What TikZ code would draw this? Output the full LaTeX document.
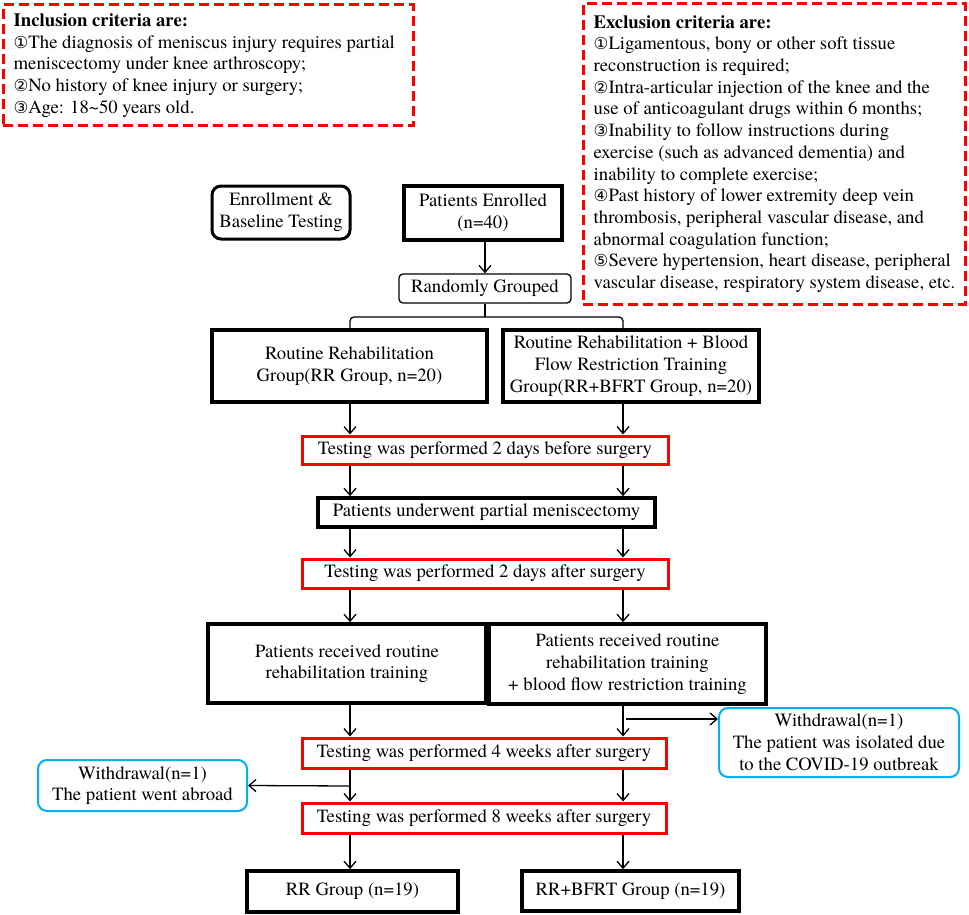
\documentclass[tikz,border=0pt]{standalone}
\usepackage{fontspec}
\setmainfont{texgyretermes}[Extension=.otf, UprightFont=*-regular, BoldFont=*-bold, ItalicFont=*-italic, BoldItalicFont=*-bolditalic]
\newfontfamily\circfont{DejaVu Sans}
\usetikzlibrary{arrows.meta}
\newcommand{\cdig}[1]{{\circfont\fontsize{16.5}{21.7}\selectfont #1}}
\definecolor{cyanline}{RGB}{0,176,240}
\tikzset{
  every node/.style={inner sep=0pt, font=\fontsize{18.7}{21.7}\selectfont},
  blkbox/.style={draw=black, line width=3.6pt, align=center},
  redbox/.style={draw=red, line width=3pt, align=center},
  rgbox/.style={draw=black, line width=1.3pt, rounded corners=4pt, align=center},
  enbox/.style={draw=black, line width=3pt, rounded corners=9pt, align=center},
  cybox/.style={draw=cyanline, line width=2pt, rounded corners=9pt, align=center},
  dashbox/.style={draw=red, line width=3pt, dash pattern=on 10pt off 5pt},
  txtleft/.style={align=left, anchor=west},
  arr/.style={-{Straight Barb[length=7pt,width=12pt]}, line width=1.3pt},
  conn/.style={line width=1.3pt, rounded corners=4pt}
}
\begin{document}
\begin{tikzpicture}[x=1pt, y=-1pt]
\fill[white] (0,0) rectangle (969,915);
\useasboundingbox (0,0) rectangle (969,915);

\coordinate (cL) at (350,0);
\coordinate (cR) at (623,0);

% criteria boxes
\node[dashbox, minimum width=410, minimum height=121] (incl) at (208,65.5) {};
\node[txtleft] (inclt) at ([xshift=12pt]incl.west) {\textbf{Inclusion criteria are:}\\
\cdig{①}The diagnosis of meniscus injury requires partial\\
meniscectomy under knee arthroscopy;\\
\cdig{②}No history of knee injury or surgery;\\
\cdig{③}Age: 18\textasciitilde 50 years old.};

\node[dashbox, minimum width=382, minimum height=300] (excl) at (774,154) {};
\node[txtleft] (exclt) at ([xshift=12pt]excl.west) {\textbf{Exclusion criteria are:}\\
\cdig{①}Ligamentous, bony or other soft tissue\\
reconstruction is required;\\
\cdig{②}Intra-articular injection of the knee and the\\
use of anticoagulant drugs within 6 months;\\
\cdig{③}Inability to follow instructions during\\
exercise (such as advanced dementia) and\\
inability to complete exercise;\\
\cdig{④}Past history of lower extremity deep vein\\
thrombosis, peripheral vascular disease, and\\
abnormal coagulation function;\\
\cdig{⑤}Severe hypertension, heart disease, peripheral\\
vascular disease, respiratory system disease, etc.};

% flow nodes
\node[enbox, minimum width=138, minimum height=53] (en) at (281,212.5) {Enrollment \&\\Baseline Testing};
\node[blkbox, line width=4.2pt, minimum width=158, minimum height=54] (pe) at (483,213) {Patients Enrolled\\(n=40)};
\node[rgbox, minimum width=172, minimum height=29] (rg) at (485,288.5) {Randomly Grouped};
\node[blkbox, minimum width=275, minimum height=72] (rr) at (349.5,366) {Routine Rehabilitation\\Group(RR Group, n=20)};
\node[blkbox, minimum width=256, minimum height=72] (bf) at (631,366) {Routine Rehabilitation + Blood\\Flow Restriction Training\\Group(RR+BFRT Group, n=20)};
\node[redbox, minimum width=366, minimum height=28] (t1) at (485,450) {Testing was performed 2 days before surgery};
\node[blkbox, minimum width=337, minimum height=29] (pu) at (486.5,512.5) {Patients underwent partial meniscectomy};
\node[redbox, minimum width=366, minimum height=29] (t2) at (485,573.5) {Testing was performed 2 days after surgery};
\node[blkbox, minimum width=278, minimum height=79] (pl) at (347,663.5) {Patients received routine\\rehabilitation training};
\node[blkbox, minimum width=277, minimum height=80] (pr) at (627.5,664) {Patients received routine\\rehabilitation training\\+ blood flow restriction training};
\node[redbox, minimum width=364, minimum height=30] (t3) at (484,753) {Testing was performed 4 weeks after surgery};
\node[cybox, minimum width=240, minimum height=69] (w1) at (839,742.5) {Withdrawal(n=1)\\The patient was isolated due\\to the COVID-19 outbreak};
\node[cybox, minimum width=209, minimum height=51] (w2) at (142.5,785.5) {Withdrawal(n=1)\\The patient went abroad};
\node[redbox, minimum width=364, minimum height=30] (t4) at (484,818) {Testing was performed 8 weeks after surgery};
\node[blkbox, minimum width=211, minimum height=41] (g1) at (352.5,891.5) {RR Group (n=19)};
\node[blkbox, minimum width=217, minimum height=40] (g2) at (630.5,891) {RR+BFRT Group (n=19)};

% connectors
\draw[arr] (pe.south -| rg.north) -- (rg.north);
\coordinate (br) at (485,317);
\draw[conn] (rg.south) -- (br);
\draw[conn] (rr.north -| cL) |- (br) -| (bf.north -| cR);

\draw[arr] (rr.south -| cL) -- (t1.north -| cL);
\draw[arr] (bf.south -| cR) -- (t1.north -| cR);
\draw[arr] (t1.south -| cL) -- (pu.north -| cL);
\draw[arr] (t1.south -| cR) -- (pu.north -| cR);
\draw[arr] (pu.south -| cL) -- (t2.north -| cL);
\draw[arr] (pu.south -| cR) -- (t2.north -| cR);
\draw[arr] (t2.south -| cL) -- (pl.north -| cL);
\draw[arr] (t2.south -| cR) -- (pr.north -| cR);
\draw[arr] (pl.south -| cL) -- (t3.north -| cL);
\draw[arr] (pr.south -| cR) -- (t3.north -| cR);
\coordinate (wr) at (626,719);
\draw[arr] (wr) -- (wr -| w1.west);
\draw[arr] (t3.south -| cL) -- (t4.north -| cL);
\draw[arr] (t3.south -| cR) -- (t4.north -| cR);
\coordinate (wl) at (350,786);
\draw[arr] (wl) -- (w2.east);
\draw[arr] (t4.south -| cL) -- (g1.north -| cL);
\draw[arr] (t4.south -| cR) -- (g2.north -| cR);
\end{tikzpicture}
\end{document}
